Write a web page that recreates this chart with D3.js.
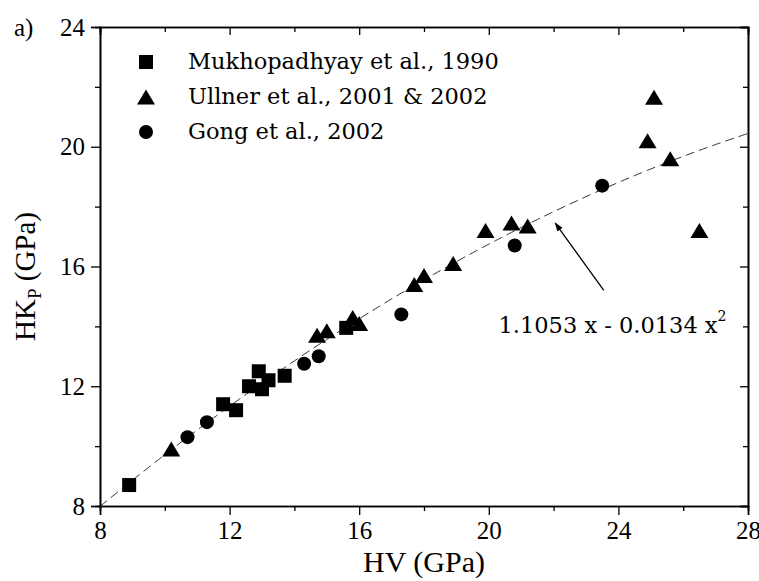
<!DOCTYPE html>
<html>
<head>
<meta charset="utf-8">
<script src="https://cdn.jsdelivr.net/npm/d3@7"></script>
<style>
  body { margin: 0; background: #fff; }
  svg { display: block; }
  text { fill: #000; }
</style>
</head>
<body>
<svg id="chart" width="759" height="581"></svg>
<script>
// ---- data ----
const xDomain = [8, 28];
const yDomain = [8, 24];
const xTicks = [8, 12, 16, 20, 24, 28];
const yTicks = [8, 12, 16, 20, 24];
const xMinorTicks = [10, 14, 18, 22, 26];
const yMinorTicks = [10, 14, 18, 22];

const mukhX = [8.9, 11.8, 12.2, 12.6, 12.9, 13.0, 13.2, 13.7, 15.6];
const mukhY = [8.7, 11.4, 11.2, 12.0, 12.5, 11.9, 12.2, 12.35, 13.95];

const ullnerX = [10.2, 14.7, 15.0, 15.8, 16.0, 17.7, 18.0, 18.9, 19.9, 20.7, 21.2, 24.9, 25.1, 25.6, 26.5];
const ullnerY = [9.9, 13.7, 13.85, 14.3, 14.1, 15.4, 15.7, 16.1, 17.2, 17.45, 17.35, 20.2, 21.65, 19.6, 17.2];

const gongX = [10.7, 11.3, 14.3, 14.75, 17.3, 20.8, 23.5];
const gongY = [10.3, 10.8, 12.75, 13.0, 14.4, 16.7, 18.7];

const fitCoef = [1.1053, -0.0134];   // y = a x + b x^2
const legendLabels = ["Mukhopadhyay et al., 1990", "Ullner et al., 2001 & 2002", "Gong et al., 2002"];
const arrowFrom = [23.55, 15.2];
const arrowTo = [22.05, 17.45];
const eqPos = [20.3, 14.7];

// ---- layout ----
const svg = d3.select("#chart");
const x = d3.scaleLinear().domain(xDomain).range([100, 748]);
const y = d3.scaleLinear().domain(yDomain).range([506, 27]);
const serif = "'Liberation Serif', 'Times New Roman', serif";
const serif2 = "'DejaVu Serif', serif";

svg.append("defs").append("clipPath").attr("id", "plotclip")
  .append("rect").attr("x", 100).attr("y", 27).attr("width", 648).attr("height", 479);

// fit curve
const fitPts = d3.range(xDomain[0], xDomain[1] + 0.001, 0.1).map(v => [v, fitCoef[0] * v + fitCoef[1] * v * v]);
svg.append("path")
  .attr("clip-path", "url(#plotclip)")
  .attr("d", d3.line().x(d => x(d[0])).y(d => y(d[1]))(fitPts))
  .attr("fill", "none").attr("stroke", "#333").attr("stroke-width", 1)
  .attr("stroke-dasharray", "9,5");

// axes
const axisW = 1.6;
const gB = svg.append("g").attr("transform", `translate(0,${y(8)})`)
  .call(d3.axisBottom(x).tickValues(xTicks).tickSize(9).tickPadding(6).tickFormat(d3.format("d")));
const gBm = svg.append("g").attr("transform", `translate(0,${y(8)})`)
  .call(d3.axisBottom(x).tickValues(xMinorTicks).tickSize(5).tickFormat(""));
const gL = svg.append("g").attr("transform", `translate(${x(8)},0)`)
  .call(d3.axisLeft(y).tickValues(yTicks).tickSize(9).tickPadding(6).tickFormat(d3.format("d")));
const gLm = svg.append("g").attr("transform", `translate(${x(8)},0)`)
  .call(d3.axisLeft(y).tickValues(yMinorTicks).tickSize(5).tickFormat(""));
const gT = svg.append("g").attr("transform", `translate(0,${y(24)})`)
  .call(d3.axisBottom(x).tickValues(xTicks).tickSize(8).tickFormat(""));
const gTm = svg.append("g").attr("transform", `translate(0,${y(24)})`)
  .call(d3.axisBottom(x).tickValues(xMinorTicks).tickSize(5).tickFormat(""));
const gR = svg.append("g").attr("transform", `translate(${x(28)},0)`)
  .call(d3.axisLeft(y).tickValues(yTicks).tickSize(8).tickFormat(""));
const gRm = svg.append("g").attr("transform", `translate(${x(28)},0)`)
  .call(d3.axisLeft(y).tickValues(yMinorTicks).tickSize(5).tickFormat(""));
[gB, gBm, gL, gLm, gT, gTm, gR, gRm].forEach(g => {
  g.attr("font-family", serif).attr("font-size", 25);
  g.selectAll("path.domain").attr("stroke", "#000").attr("stroke-width", axisW);
  g.selectAll(".tick line").attr("stroke", "#000").attr("stroke-width", 1.3);
  g.selectAll(".tick text").style("font-family", serif).style("font-size", "25px").attr("fill", "#000");
});

// axis titles
svg.append("text").attr("x", x(18)).attr("y", 572).attr("text-anchor", "middle")
  .style("font-family", serif).style("font-size", "30px").text("HV (GPa)");
const yt = svg.append("text").attr("transform", `translate(35,${y(16) + 10}) rotate(-90)`)
  .attr("text-anchor", "middle").style("font-family", serif).style("font-size", "29px");
yt.append("tspan").text("HK");
yt.append("tspan").style("font-size", "19px").attr("dy", 6).text("P");
yt.append("tspan").attr("dy", -6).text(" (GPa)");

// panel label
svg.append("text").attr("x", 14).attr("y", 36).style("font-family", serif).style("font-size", "25px").text("a)");

// markers
const triPath = "M0,-7.5L9,7.5L-9,7.5Z";
svg.append("g").selectAll("rect").data(d3.zip(mukhX, mukhY)).join("rect")
  .attr("x", d => x(d[0]) - 7).attr("y", d => y(d[1]) - 7).attr("width", 14).attr("height", 14).attr("fill", "#000");
svg.append("g").selectAll("path").data(d3.zip(ullnerX, ullnerY)).join("path")
  .attr("transform", d => `translate(${x(d[0])},${y(d[1])})`).attr("d", triPath).attr("fill", "#000");
svg.append("g").selectAll("circle").data(d3.zip(gongX, gongY)).join("circle")
  .attr("cx", d => x(d[0])).attr("cy", d => y(d[1])).attr("r", 7).attr("fill", "#000");

// legend
const lg = svg.append("g");
const legY = [62, 97, 132];
lg.append("rect").attr("x", 146 - 7).attr("y", legY[0] - 7).attr("width", 14).attr("height", 14);
lg.append("path").attr("transform", `translate(146,${legY[1]})`).attr("d", triPath);
lg.append("circle").attr("cx", 146).attr("cy", legY[2]).attr("r", 7);
lg.selectAll("text").data(legendLabels).join("text")
  .attr("x", 188).attr("y", (d, i) => legY[i] + 7)
  .style("font-family", serif2).style("font-size", "22.5px").text(d => d);

// arrow + equation
svg.append("defs").append("marker").attr("id", "ah").attr("viewBox", "0 0 10 10")
  .attr("refX", 9).attr("refY", 5).attr("markerWidth", 9).attr("markerHeight", 9)
  .attr("markerUnits", "userSpaceOnUse").attr("orient", "auto")
  .append("path").attr("d", "M0,1.5L10,5L0,8.5Z").attr("fill", "#000");
svg.append("line").attr("x1", x(arrowFrom[0])).attr("y1", y(arrowFrom[1]))
  .attr("x2", x(arrowTo[0])).attr("y2", y(arrowTo[1]))
  .attr("stroke", "#000").attr("stroke-width", 1.3).attr("marker-end", "url(#ah)");
const eq = svg.append("text").attr("x", x(eqPos[0])).attr("y", 333)
  .style("font-family", serif2).style("font-size", "22.5px");
eq.append("tspan").text("1.1053 x - 0.0134 x");
eq.append("tspan").style("font-size", "14px").attr("dy", -12).text("2");
</script>
</body>
</html>
